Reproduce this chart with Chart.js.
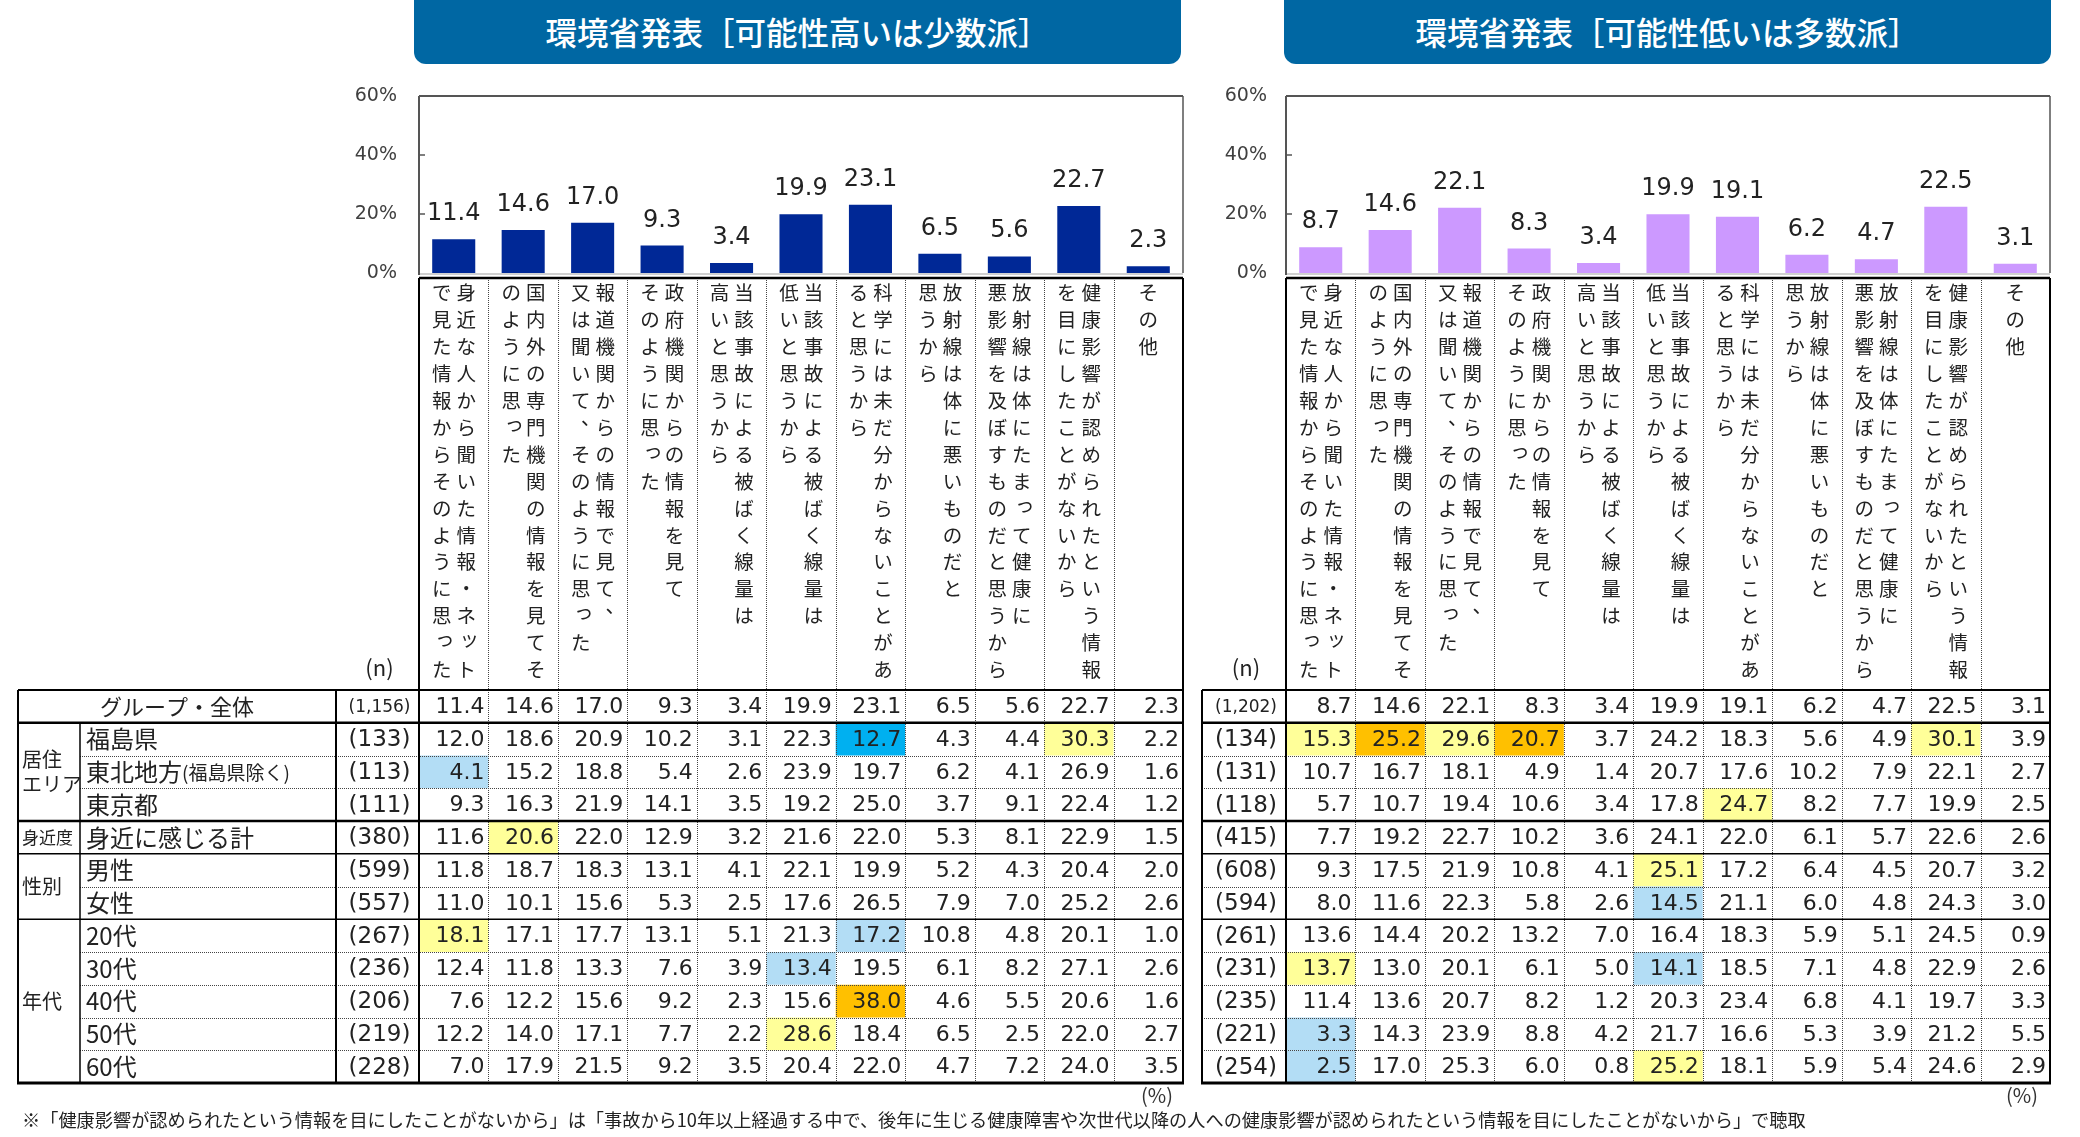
<!DOCTYPE html>
<html lang="ja">
<head>
<meta charset="utf-8">
<script src="https://cdn.jsdelivr.net/npm/chart.js@4.4.1/dist/chart.umd.min.js"></script>
<style>
  html, body { margin: 0; padding: 0; background: #fff; }
  body { width: 2080px; height: 1137px; position: relative; overflow: hidden; font-family: "Noto Sans CJK JP", sans-serif; color: #222; }
  .title { position: absolute; top: -12px; height: 76px; box-sizing: border-box; padding-top: 21px; line-height: 44px;
           background: #0067a3; color: #fff; border-radius: 12px; font-size: 31.5px; text-align: center; font-weight: 500; }
  canvas { position: absolute; top: 0; }
  .note { position: absolute; left: 22px; top: 1106px; font-size: 18.2px; line-height: 26px; white-space: nowrap; color: #222; }
  .pct { position: absolute; top: 1082px; font-size: 20px; line-height: 26px; color: #333; }
</style>
</head>
<body>
<div class="title" style="left:414px;width:767px;">環境省発表［可能性高いは少数派］</div>
<div class="title" style="left:1284px;width:767px;">環境省発表［可能性低いは多数派］</div>
<canvas id="chartHigh" width="1200" height="1137" style="left:0;"></canvas>
<canvas id="chartLow" width="880" height="1137" style="left:1200px;"></canvas>
<div class="pct" style="left:1141px;">(%)</div>
<div class="pct" style="left:2006px;">(%)</div>
<div class="note">※「健康影響が認められたという情報を目にしたことがないから」は「事故から10年以上経過する中で、後年に生じる健康障害や次世代以降の人への健康影響が認められたという情報を目にしたことがないから」で聴取</div>
<script>
// 理由の選択肢（縦書き：右の列 → 左の列）
const categories = [
  ["身近な人から聞いた情報・ネット", "で見た情報からそのように思った"],
  ["国内外の専門機関の情報を見てそ", "のように思った"],
  ["報道機関からの情報で見て、", "又は聞いて、そのように思った"],
  ["政府機関からの情報を見て", "そのように思った"],
  ["当該事故による被ばく線量は", "高いと思うから"],
  ["当該事故による被ばく線量は", "低いと思うから"],
  ["科学には未だ分からないことがあ", "ると思うから"],
  ["放射線は体に悪いものだと", "思うから"],
  ["放射線は体にたまって健康に", "悪影響を及ぼすものだと思うから"],
  ["健康影響が認められたという情報", "を目にしたことがないから"],
  ["その他"]
];

const rowLabels = ["グループ・全体", "福島県", "東北地方(福島県除く)", "東京都", "身近に感じる計",
  "男性", "女性", "20代", "30代", "40代", "50代", "60代"];

const groups = [
  { label: ["居住", "エリア"], first: 1, last: 3 },
  { label: ["身近度"], first: 4, last: 4 },
  { label: ["性別"], first: 5, last: 6 },
  { label: ["年代"], first: 7, last: 11 }
];

const yTicks = [0, 20, 40, 60];

const nHigh = ["(1,156)", "(133)", "(113)", "(111)", "(380)", "(599)", "(557)", "(267)", "(236)", "(206)", "(219)", "(228)"];
const valuesHigh = [
  [11.4, 14.6, 17.0, 9.3, 3.4, 19.9, 23.1, 6.5, 5.6, 22.7, 2.3],
  [12.0, 18.6, 20.9, 10.2, 3.1, 22.3, 12.7, 4.3, 4.4, 30.3, 2.2],
  [4.1, 15.2, 18.8, 5.4, 2.6, 23.9, 19.7, 6.2, 4.1, 26.9, 1.6],
  [9.3, 16.3, 21.9, 14.1, 3.5, 19.2, 25.0, 3.7, 9.1, 22.4, 1.2],
  [11.6, 20.6, 22.0, 12.9, 3.2, 21.6, 22.0, 5.3, 8.1, 22.9, 1.5],
  [11.8, 18.7, 18.3, 13.1, 4.1, 22.1, 19.9, 5.2, 4.3, 20.4, 2.0],
  [11.0, 10.1, 15.6, 5.3, 2.5, 17.6, 26.5, 7.9, 7.0, 25.2, 2.6],
  [18.1, 17.1, 17.7, 13.1, 5.1, 21.3, 17.2, 10.8, 4.8, 20.1, 1.0],
  [12.4, 11.8, 13.3, 7.6, 3.9, 13.4, 19.5, 6.1, 8.2, 27.1, 2.6],
  [7.6, 12.2, 15.6, 9.2, 2.3, 15.6, 38.0, 4.6, 5.5, 20.6, 1.6],
  [12.2, 14.0, 17.1, 7.7, 2.2, 28.6, 18.4, 6.5, 2.5, 22.0, 2.7],
  [7.0, 17.9, 21.5, 9.2, 3.5, 20.4, 22.0, 4.7, 7.2, 24.0, 3.5]
];
// [row, column, kind]
const marksHigh = [
  [1, 6, "blue"], [1, 9, "yellow"], [2, 0, "lightblue"], [4, 1, "yellow"],
  [7, 0, "yellow"], [7, 6, "lightblue"], [8, 5, "lightblue"], [9, 6, "orange"], [10, 5, "yellow"]
];

const nLow = ["(1,202)", "(134)", "(131)", "(118)", "(415)", "(608)", "(594)", "(261)", "(231)", "(235)", "(221)", "(254)"];
const valuesLow = [
  [8.7, 14.6, 22.1, 8.3, 3.4, 19.9, 19.1, 6.2, 4.7, 22.5, 3.1],
  [15.3, 25.2, 29.6, 20.7, 3.7, 24.2, 18.3, 5.6, 4.9, 30.1, 3.9],
  [10.7, 16.7, 18.1, 4.9, 1.4, 20.7, 17.6, 10.2, 7.9, 22.1, 2.7],
  [5.7, 10.7, 19.4, 10.6, 3.4, 17.8, 24.7, 8.2, 7.7, 19.9, 2.5],
  [7.7, 19.2, 22.7, 10.2, 3.6, 24.1, 22.0, 6.1, 5.7, 22.6, 2.6],
  [9.3, 17.5, 21.9, 10.8, 4.1, 25.1, 17.2, 6.4, 4.5, 20.7, 3.2],
  [8.0, 11.6, 22.3, 5.8, 2.6, 14.5, 21.1, 6.0, 4.8, 24.3, 3.0],
  [13.6, 14.4, 20.2, 13.2, 7.0, 16.4, 18.3, 5.9, 5.1, 24.5, 0.9],
  [13.7, 13.0, 20.1, 6.1, 5.0, 14.1, 18.5, 7.1, 4.8, 22.9, 2.6],
  [11.4, 13.6, 20.7, 8.2, 1.2, 20.3, 23.4, 6.8, 4.1, 19.7, 3.3],
  [3.3, 14.3, 23.9, 8.8, 4.2, 21.7, 16.6, 5.3, 3.9, 21.2, 5.5],
  [2.5, 17.0, 25.3, 6.0, 0.8, 25.2, 18.1, 5.9, 5.4, 24.6, 2.9]
];
const marksLow = [
  [1, 0, "yellow"], [1, 1, "orange"], [1, 2, "yellow"], [1, 3, "orange"], [1, 9, "yellow"],
  [3, 6, "yellow"], [5, 5, "yellow"], [6, 5, "lightblue"], [8, 0, "yellow"], [8, 5, "lightblue"],
  [10, 0, "lightblue"], [11, 0, "lightblue"], [11, 5, "yellow"]
];

const CJK = '"Noto Sans CJK JP", sans-serif';
const NUM = '"DejaVu Sans", sans-serif';
const fills = { yellow: "#ffff99", lightblue: "#b3ddf5", blue: "#00b0f0", orange: "#ffc000" };

const TABLE_TOP = 690;
const ROW_H = 32.75;
const HEAD_TOP = 278;

function line(ctx, x1, y1, x2, y2, width, color, dotted) {
  ctx.save();
  ctx.beginPath();
  ctx.lineWidth = width;
  ctx.strokeStyle = color;
  ctx.setLineDash(dotted ? [1, 1] : []);
  ctx.moveTo(x1, y1);
  ctx.lineTo(x2, y2);
  ctx.stroke();
  ctx.restore();
}

function drawVertical(ctx, text, x, y0) {
  const pitch = 26.9;
  Array.from(text).forEach(function (ch, i) {
    let dx = 0, dy = 0;
    if (ch === "、") { dx = 10; dy = -10; }
    if (ch === "っ" || ch === "ッ") { dx = 3; dy = -4; }
    ctx.fillText(ch, x + dx, y0 + i * pitch + dy);
  });
}

const tablePlugin = {
  id: "panelTable",
  afterDraw(chart, args, opts) {
    const ctx = chart.ctx;
    const area = chart.chartArea;
    const xs = chart.scales.x;
    const ys = chart.scales.y;
    const colW = (area.right - area.left) / categories.length;
    const ox = opts.offsetX;
    const L = opts.tableLeft - ox;
    const nL = opts.nLeft - ox;
    const R = area.right;
    const rows = opts.values.length;
    const rowY = function (r) { return TABLE_TOP + r * ROW_H; };
    const bottom = rowY(rows);

    // plot frame
    line(ctx, area.left, area.bottom + 1, R, area.bottom + 1, 2, "#d0d0d0");
    line(ctx, area.left, area.top, R, area.top, 2, "#555");
    line(ctx, R, area.top, R, area.bottom, 1.5, "#555");
    line(ctx, area.left, area.top, area.left, area.bottom + 2, 2, "#555");
    yTicks.slice(1, -1).forEach(function (t) {
      const y = ys.getPixelForValue(t);
      line(ctx, area.left, y, area.left + 6, y, 1.5, "#555");
    });

    // highlighted cells
    opts.marks.forEach(function (m) {
      const cx = xs.getPixelForValue(m[1]);
      ctx.fillStyle = fills[m[2]];
      ctx.fillRect(cx - colW / 2, rowY(m[0]), colW, ROW_H);
    });

    // dotted grid
    for (let c = 1; c < categories.length; c++) {
      const x = Math.round(area.left + c * colW) + 0.5;
      line(ctx, x, HEAD_TOP, x, bottom, 1, "#444", true);
    }
    const solidAfter = [0, 3, 4, 6];
    for (let r = 1; r < rows; r++) {
      if (solidAfter.indexOf(r - 1) >= 0) continue;
      const y = Math.round(rowY(r)) + 0.5;
      line(ctx, opts.labels ? 80 : nL, y, R, y, 1, "#444", true);
    }

    // solid lines
    line(ctx, area.left, HEAD_TOP, R, HEAD_TOP, 2.5, "#000");
    line(ctx, area.left, HEAD_TOP, area.left, bottom, 2, "#000");
    line(ctx, R, HEAD_TOP, R, bottom, 2, "#000");
    line(ctx, L, rowY(0), R, rowY(0), 2, "#000");
    line(ctx, L, rowY(1), R, rowY(1), 2.5, "#000");
    line(ctx, L, rowY(4), R, rowY(4), 2.5, "#000");
    line(ctx, L, rowY(5), R, rowY(5), 1.5, "#000");
    line(ctx, L, rowY(7), R, rowY(7), 1.5, "#000");
    line(ctx, L - 1, bottom, R + 1, bottom, 3, "#000");
    line(ctx, L, rowY(0), L, bottom, 2, "#000");
    line(ctx, nL, rowY(0), nL, bottom, 2, "#000");
    if (opts.labels) {
      line(ctx, 80, rowY(1), 80, bottom, 1.5, "#000");
    }

    ctx.save();
    ctx.fillStyle = "#222";
    ctx.textBaseline = "middle";

    // vertical category labels
    ctx.font = "19.5px " + CJK;
    ctx.textAlign = "center";
    categories.forEach(function (pair, i) {
      const cx = xs.getPixelForValue(i);
      if (pair.length === 1) {
        drawVertical(ctx, pair[0], cx, 293);
      } else {
        drawVertical(ctx, pair[0], cx + 12.5, 293);
        drawVertical(ctx, pair[1], cx - 12, 293);
      }
    });

    // (n) header
    ctx.font = "22px " + CJK;
    ctx.fillText("(n)", (nL + area.left) / 2 + 2, 668);

    // n column
    opts.n.forEach(function (t, r) {
      ctx.font = (r === 0 ? "17px " : "23px ") + NUM;
      ctx.fillText(t, (nL + area.left) / 2 + 2, rowY(r) + ROW_H / 2 + 1);
    });

    // values
    ctx.font = "22px " + NUM;
    ctx.textAlign = "right";
    opts.values.forEach(function (row, r) {
      row.forEach(function (v, c) {
        const right = xs.getPixelForValue(c) + colW / 2 - 4;
        ctx.fillText(v.toFixed(1), right, rowY(r) + ROW_H / 2 + 1);
      });
    });

    // row labels and groups
    if (opts.labels) {
      ctx.textAlign = "center";
      ctx.font = "22px " + CJK;
      ctx.fillText(rowLabels[0], (L + nL) / 2, rowY(0) + ROW_H / 2);
      ctx.textAlign = "left";
      rowLabels.slice(1).forEach(function (t, k) {
        const y = rowY(k + 1) + ROW_H / 2;
        const p = t.indexOf("(");
        ctx.font = "24px " + CJK;
        if (p > 0) {
          const head = t.slice(0, p);
          ctx.fillText(head, 86, y);
          const w = ctx.measureText(head).width;
          ctx.font = "19px " + CJK;
          ctx.fillText(t.slice(p), 86 + w, y + 1);
        } else {
          ctx.fillText(t, 86, y);
        }
      });
      groups.forEach(function (g) {
        const mid = (rowY(g.first) + rowY(g.last + 1)) / 2;
        ctx.font = (g.label[0].length > 2 ? "17px " : "20px ") + CJK;
        const h = 25;
        g.label.forEach(function (t, k) {
          ctx.fillText(t, 22, mid + (k - (g.label.length - 1) / 2) * h);
        });
      });
    }
    ctx.restore();
  }
};

const barLabelPlugin = {
  id: "barLabels",
  afterDatasetsDraw(chart) {
    const ctx = chart.ctx;
    const meta = chart.getDatasetMeta(0);
    const data = chart.data.datasets[0].data;
    ctx.save();
    ctx.font = "24px " + NUM;
    ctx.fillStyle = "#222";
    ctx.textAlign = "center";
    ctx.textBaseline = "alphabetic";
    meta.data.forEach(function (bar, i) {
      ctx.fillText(data[i].toFixed(1), bar.x, bar.y - 19);
    });
    ctx.restore();
  }
};

function makePanel(canvasId, values, n, marks, color, cfg) {
  return new Chart(document.getElementById(canvasId), {
    type: "bar",
    data: {
      labels: categories.map(function (c) { return c.join(""); }),
      datasets: [{
        data: values[0],
        backgroundColor: color,
        borderWidth: 0,
        categoryPercentage: 1,
        barPercentage: 0.62
      }]
    },
    options: {
      responsive: false,
      animation: false,
      events: [],
      layout: { padding: { left: 0, top: 96, right: cfg.padRight, bottom: 1137 - 273 } },
      plugins: {
        legend: { display: false },
        tooltip: { enabled: false },
        panelTable: { offsetX: cfg.offsetX, tableLeft: cfg.tableLeft, nLeft: cfg.nLeft, labels: cfg.labels, values: values, n: n, marks: marks }
      },
      scales: {
        x: { display: false, offset: true },
        y: {
          min: 0,
          max: 60,
          afterFit: function (scale) { scale.width = cfg.axisWidth; },
          afterBuildTicks: function (scale) { scale.ticks = yTicks.map(function (v) { return { value: v }; }); },
          border: { display: false },
          grid: { display: false, drawTicks: false },
          ticks: {
            padding: cfg.tickPad,
            color: "#404040",
            font: { family: "DejaVu Sans", size: 19 },
            callback: function (v) { return v + "%"; }
          }
        }
      }
    },
    plugins: [tablePlugin, barLabelPlugin]
  });
}

makePanel("chartHigh", valuesHigh, nHigh, marksHigh, "#002896",
  { offsetX: 0, tableLeft: 18, nLeft: 336, labels: true, axisWidth: 419, padRight: 1200 - 1183, tickPad: 22 });
makePanel("chartLow", valuesLow, nLow, marksLow, "#cc99ff",
  { offsetX: 1200, tableLeft: 1202, nLeft: 1202, labels: false, axisWidth: 86, padRight: 880 - 850, tickPad: 19 });
</script>
</body>
</html>
